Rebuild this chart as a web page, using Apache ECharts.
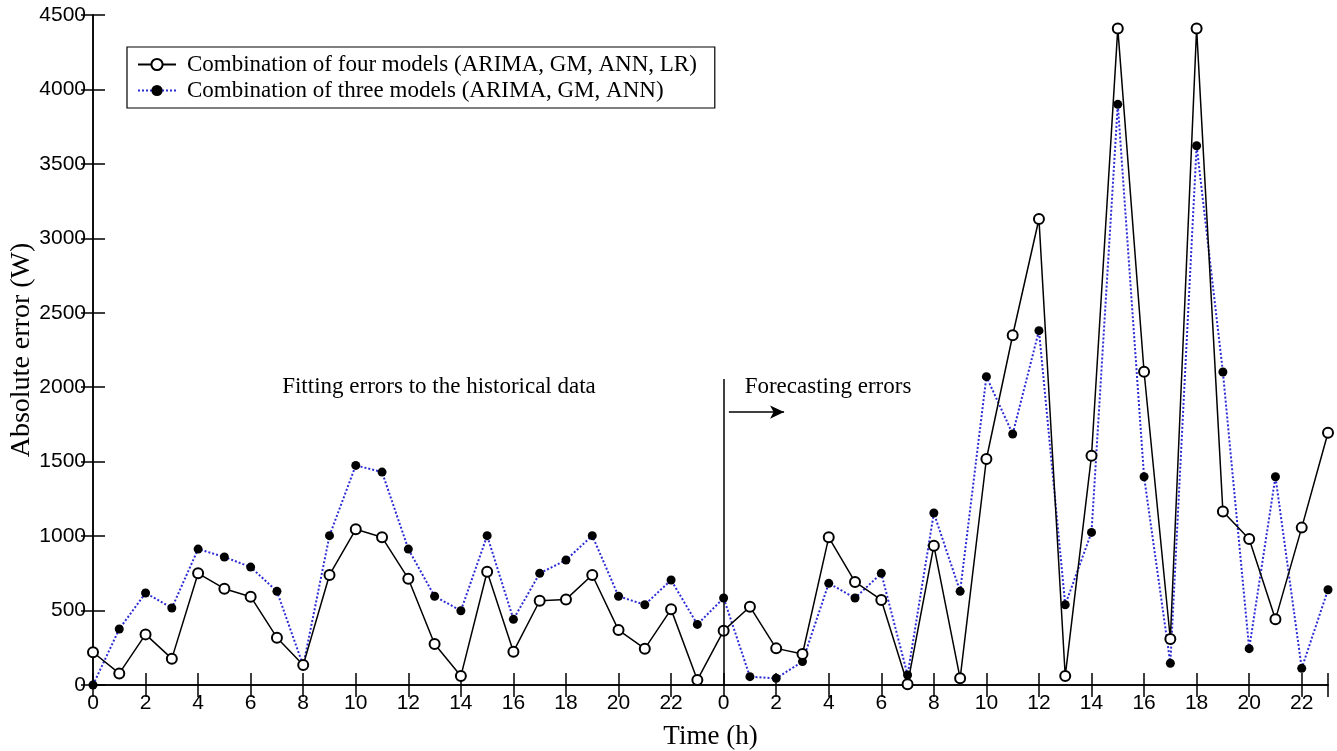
<!DOCTYPE html>
<html>
<head>
<meta charset="utf-8">
<script src="https://cdn.jsdelivr.net/npm/echarts@6/dist/echarts.min.js"></script>
<style>
  html, body { margin: 0; padding: 0; background: #fff; }
  #chart { width: 1337px; height: 751px; }
</style>
</head>
<body>
<div id="chart"></div>
<script>
// hour index 0..47 (two days: fitting day + forecasting day)
var hours = [0,1,2,3,4,5,6,7,8,9,10,11,12,13,14,15,16,17,18,19,20,21,22,23,
  24,25,26,27,28,29,30,31,32,33,34,35,36,37,38,39,40,41,42,43,44,45,46,47]

// Combination of four models (ARIMA, GM, ANN, LR)
var fourModels = [220,78,340,177,750,647,593,318,134,739,1046,992,714,275,60,761,224,566,575,739,369,244,508,34,
  365,526,246,208,992,692,571,5,936,45,1518,2349,3130,60,1540,4410,2104,309,4410,1166,980,441,1057,1694]

// Combination of three models (ARIMA, GM, ANN)
var threeModels = [0,376,618,517,913,860,792,629,130,1003,1475,1430,913,596,499,1003,441,750,839,1003,596,539,705,407,
  584,56,45,157,683,584,750,67,1155,629,2071,1686,2380,539,1025,3900,1399,146,3622,2102,244,1399,112,640]

var yTicks = [0, 4500, 500]
var seriesNames = ['Combination of four models (ARIMA, GM, ANN, LR)', 'Combination of three models (ARIMA, GM, ANN)']

var serif = '"Liberation Serif", "DejaVu Serif", serif'
var sans = '"Liberation Sans", Arial, sans-serif'

function pairs (vals) {
  return hours.map(function (h, i) { return [h, vals[i]] })
}

var chart = echarts.init(document.getElementById('chart'))

var axisLine = { show: true, lineStyle: { color: '#000', width: 1.5 } }
var axisTick = { show: true, inside: true, length: 12, lineStyle: { color: '#000', width: 1.5 } }

var option = {
  animation: false,
  backgroundColor: '#fff',
  grid: { left: 93, right: 9, top: 15, bottom: 66, containLabel: false, outerBoundsMode: 'none' },
  legend: {
    orient: 'vertical',
    left: 127,
    top: 47,
    padding: [6, 18, 6, 10],
    itemGap: 3,
    itemWidth: 38,
    itemHeight: 14,
    borderColor: '#000',
    borderWidth: 1.2,
    backgroundColor: '#fff',
    textStyle: { fontFamily: serif, fontSize: 23, color: '#000', padding: [0, 0, 0, 6] },
    data: [seriesNames[0], seriesNames[1]]
  },
  xAxis: [
    {
      type: 'value',
      min: 0,
      max: 47,
      interval: 2,
      name: 'Time (h)',
      nameLocation: 'middle',
      nameGap: 38,
      nameMoveOverlap: false,
      nameTextStyle: { fontFamily: serif, fontSize: 27, color: '#000' },
      axisLine: axisLine,
      axisTick: axisTick,
      splitLine: { show: false },
      axisLabel: {
        margin: 8,
        fontFamily: sans,
        fontSize: 21,
        color: '#000',
        formatter: function (v) { return v % 2 === 0 ? String(v % 24) : '' }
      }
    },
    {
      type: 'value',
      position: 'top',
      min: 0,
      max: 47,
      interval: 2,
      axisLine: axisLine,
      axisTick: axisTick,
      axisLabel: { show: false },
      splitLine: { show: false }
    }
  ],
  yAxis: [
    {
      type: 'value',
      min: yTicks[0],
      max: yTicks[1],
      interval: yTicks[2],
      name: 'Absolute error (W)',
      nameLocation: 'middle',
      nameGap: 57,
      nameMoveOverlap: false,
      nameTextStyle: { fontFamily: serif, fontSize: 28, color: '#000' },
      axisLine: axisLine,
      axisTick: axisTick,
      splitLine: { show: false },
      axisLabel: {
        margin: 7,
        fontFamily: sans,
        fontSize: 21,
        color: '#000',
        formatter: function (v) { return String(v) }
      }
    },
    {
      type: 'value',
      position: 'right',
      min: yTicks[0],
      max: yTicks[1],
      interval: yTicks[2],
      axisLine: axisLine,
      axisTick: axisTick,
      axisLabel: { show: false },
      splitLine: { show: false }
    }
  ],
  series: [
    {
      name: seriesNames[1],
      type: 'line',
      data: pairs(threeModels),
      symbol: 'circle',
      symbolSize: 9,
      itemStyle: { color: '#000' },
      lineStyle: { color: '#2b2bd6', width: 2, type: 'dotted' },
      z: 2
    },
    {
      name: seriesNames[0],
      type: 'line',
      data: pairs(fourModels),
      symbol: 'emptyCircle',
      symbolSize: 10,
      itemStyle: { color: '#000', borderWidth: 1.3 },
      lineStyle: { color: '#000', width: 1.5 },
      z: 3,
      markLine: {
        silent: true,
        symbol: ['none', 'none'],
        label: { show: false },
        lineStyle: { color: '#000', width: 1.5, type: 'solid' },
        data: [
          [{ coord: [24, 0] }, { coord: [24, 2055] }],
          [{ coord: [24.2, 1833] }, { coord: [26.3, 1833], symbol: 'arrow', symbolSize: [10, 14] }]
        ]
      },
      markPoint: {
        silent: true,
        symbol: 'circle',
        symbolSize: 0,
        label: {
          show: true,
          position: 'right',
          distance: 0,
          fontFamily: serif,
          fontSize: 23,
          color: '#000'
        },
        data: [
          { coord: [7.2, 2001], value: 'Fitting errors to the historical data' },
          { coord: [24.8, 2001], value: 'Forecasting errors' }
        ]
      }
    }
  ]
}

chart.setOption(option)
</script>
</body>
</html>
